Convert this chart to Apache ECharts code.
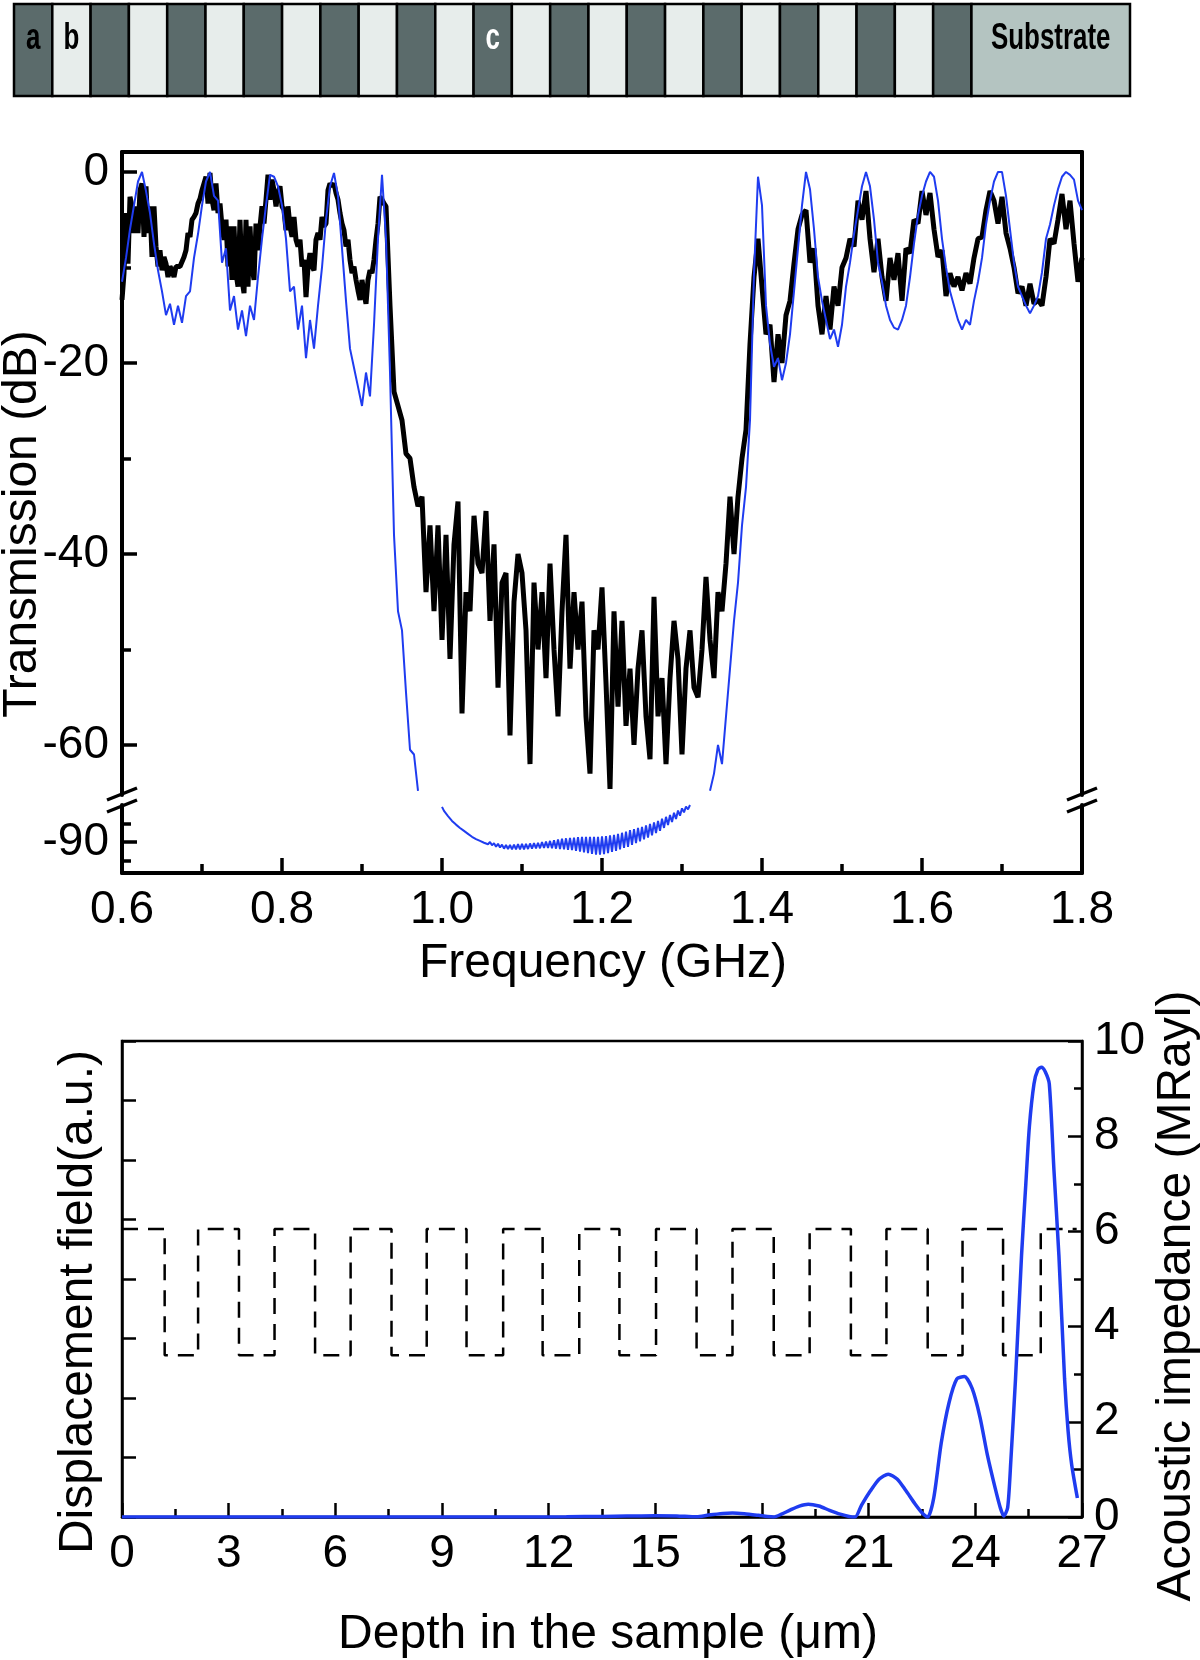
<!DOCTYPE html>
<html><head><meta charset="utf-8">
<script src="https://cdn.jsdelivr.net/npm/echarts@6/dist/echarts.min.js"></script>
<style>html,body{margin:0;padding:0;background:#fff}#c{width:1200px;height:1660px}</style>
</head><body><div id="c"></div>
<script>
const FONT = 'Liberation Sans, Arial, Helvetica, sans-serif';

// ---------- structure diagram ----------
const layerKinds = ['d','l','d','l','d','l','d','l','d','l','d','l','d','l','d','l','d','l','d','l','d','l','d','l','d','s'];
const layerLabels = ['a','b','','','','','','','','','','','c','','','','','','','','','','','','','Substrate'];
const layerWidths = [1,1,1,1,1,1,1,1,1,1,1,1,1,1,1,1,1,1,1,1,1,1,1,1,1,4.14];

// ---------- transmission (dB) ----------
const freqTicks = [0.6,0.8,1.0,1.2,1.4,1.6,1.8];
const freqMinorTicks = [0.7,0.9,1.1,1.3,1.5,1.7];
const dbTicksUpper = [0,-20,-40,-60];
const dbMinorUpper = [-10,-30,-50];
const dbTicksLower = [-90];
const dbMinorLower = [-85,-95];

// experiment (black): 0.600-0.930 step 0.0025 GHz
const blackStartA = 0.600;
const blackA = [-13.4,-10.6,-4.3,-9.6,-2.6,-3.6,-6.4,-3.6,-6.4,-1.9,-1.2,-6.8,-1.5,-6.4,-3.6,-8.9,-3.6,-7.8,-9.9,-8.2,
  -10.3,-8.9,-9.6,-11,-9.9,-10.3,-11,-9.9,-9.7,-9.9,-9.7,-8.9,-8.2,-6.4,-6.8,-5,-4.7,-4.3,-3.3,-2.8,
  -1.9,-1.2,-0.5,-3.3,-0.1,-2.9,-4,-1.2,-4.3,-3.3,-5.7,-7.1,-5,-9.9,-5.7,-11.3,-5.7,-10.6,-12,-5,
  -11.3,-12.7,-5,-12,-5.7,-9.9,-11.3,-5.4,-8.2,-5.7,-3.6,-5.4,-2.9,-0.3,-2.9,-0.8,-1.9,-3.6,-2.2,-1.5,
  -3.6,-4,-6.1,-3.6,-5.7,-6.8,-4.7,-7.1,-7.8,-7.1,-9.9,-9.2,-13.1,-9.9,-8.5,-9.9,-10.3,-7.1,-6.4,-7.1,
  -4.7,-5.7,-5.4,-1.9,-1.2,-1.5,-1.2,-2.2,-2.9,-4.3,-5.4,-6.1,-7.8,-7.1,-9.2,-10.6,-9.9,-11.3,-12.4,-13.4,
  -11.3,-12.7,-13.8,-11.3,-10.3,-10.6,-9.2,-7.1,-5.4,-2.6,-2.9,-3.3,-3.6];
// experiment (black): 0.935 onward, step 0.005 GHz
const blackStartA2 = 0.935;
const blackA2 = [-14,-23,-24.5,-26,-29.5,-30,-33,-35,-34];
const blackStartB = 0.980;
const blackB = [-44,-37,-46,-37,-49,-38,-51,-39,-34.5,-56.7,-44,-46,-36,-41,-42,-35.5,-47,-39,-54,-43,
  -42,-59,-45,-40,-42,-48,-62,-43,-50,-44,-53,-41,-50,-57,-46,-38,-52,-44,-50,-45,
  -57,-63,-48,-50,-43.5,-53.5,-64.6,-46,-56,-47,-58,-52,-60,-52,-48,-57,-61.5,-44.5,-57,-53,
  -62,-53,-47,-51,-61,-52,-48,-54,-55,-50,-42.4,-49,-53,-44,-46];
const blackStartC = 1.355;
const blackC = [-41,-34,-40,-34,-30,-27,-18,-11,-7,-12,-17,-16,-22,-17,-20,-15,-13.5,-9.6,-6,-4.5,
  -4,-9.5,-8,-14,-17,-13,-16.5,-12,-14,-10,-9,-7,-7.8,-3,-5,-2,-7,-10.5,-7,-11,
  -13.5,-9,-11.3,-8.5,-13.5,-8,-8.5,-5,-5.4,-2,-4.5,-2.2,-6,-8.9,-8.2,-13,-10.6,-12,-11,-12.4,
  -10.6,-11.7,-9,-7,-6.8,-4,-2,-3,-5.4,-2.6,-6.4,-8,-10,-12.7,-12,-14,-11.7,-13.8,-13.4,-14,
  -11,-7,-7.5,-5,-2.3,-6,-3,-7.5,-11.5,-9];

// simulation (blue), upper part, step 0.005 GHz
const blueStartA = 0.600;
const blueA = [-11.5,-9,-6,-3.5,-1,0,-2,-4.3,-7.5,-10.3,-12.5,-15,-13.8,-16,-14,-15.8,-13,-12.5,-9,-6.5,
  -3.5,-1,0,-2.5,-3,-9.5,-8,-14.5,-13,-16.5,-14.5,-17.2,-14,-15.5,-11,-7,-3.5,-0.3,-0.5,-1.5,
  -3.5,-7,-12.5,-12,-16.5,-14,-19.5,-15.5,-18.5,-14,-10,-5,-1.5,-0.1,-2.5,-8,-13.5,-18.5,-20.5,-22.5,
  -24.5,-21,-23.5,-16,-7,-0.3,-7,-21,-38,-46,-48,-54.5,-60.5,-61,-64.8];
const blueStartB = 1.335;
const blueB = [-64.8,-63,-60,-62,-57,-52,-47,-43,-37,-33,-26,-10.6,-0.5,-3.5,-14,-18,-20.4,-19.5,-21.8,-20,
  -17,-12.5,-8,-3.5,0,-1.8,-6,-11,-13.5,-15.5,-17.5,-16.5,-18.3,-16,-12,-9.5,-6.5,-4,-1.5,0,
  -1.5,-5,-9.5,-11.5,-14,-15.5,-16.3,-16.5,-15.5,-14,-11,-7.5,-4.5,-2.5,-1,0,-0.5,-3,-7,-10,
  -12.5,-14,-15.5,-16.5,-15.5,-16,-13.5,-11.5,-9,-5.5,-3,-1,0,0,-2.5,-6,-9.5,-12,-13,-14,
  -14.8,-14,-13,-10.5,-7,-5.5,-3.5,-1.8,-0.5,0,-0.3,-0.8,-3,-4];
// simulation (blue), below the axis break, step 0.0025 GHz
const blueStartLow = 1.000;
const blueLow = [-80.5,-81.6,-81.4,-83.0,-82.8,-84.3,-84.0,-85.3,-85.0,-86.2,-85.9,-87.0,-86.7,-87.8,-87.6,-88.6,-88.2,-89.2,-88.8,-89.7,
  -89.3,-90.2,-89.7,-90.6,-90.0,-90.9,-90.3,-91.3,-90.5,-91.5,-90.7,-91.8,-90.8,-91.9,-90.8,-92.0,-90.7,-92.0,-90.6,-92.0,
  -90.5,-92.0,-90.5,-91.9,-90.4,-91.8,-90.3,-91.7,-90.2,-91.7,-90.0,-91.6,-89.9,-91.6,-89.7,-91.7,-89.5,-91.8,-89.3,-91.9,
  -89.1,-92.0,-89.0,-92.1,-88.9,-92.2,-88.8,-92.4,-88.7,-92.6,-88.6,-92.8,-88.6,-93.0,-88.6,-93.2,-88.6,-93.4,-88.6,-93.4,
  -88.5,-93.3,-88.4,-93.0,-88.2,-92.7,-88.1,-92.4,-87.8,-92.0,-87.5,-91.6,-87.2,-91.3,-86.8,-90.8,-86.5,-90.3,-86.2,-89.8,
  -85.9,-89.3,-85.5,-88.8,-85.1,-88.2,-84.7,-87.6,-84.3,-87.0,-83.7,-86.2,-83.2,-85.4,-82.7,-84.6,-82.1,-83.8,-81.5,-82.9,
  -80.9,-82.0,-80.4,-81.2,-80.0];

// ---------- depth profile ----------
const depthTicks = [0,3,6,9,12,15,18,21,24,27];
const depthDisp = [0,4,8,11,12.5,13.5,14.2,15,15.6,16.16,16.5,16.9,17.17,17.5,17.9,18.15,18.33,18.55,18.8,19.05,
  19.3,19.6,19.9,20.2,20.45,20.62,20.8,21.05,21.3,21.55,21.8,22.05,22.3,22.5,22.66,22.83,23.04,23.26,23.48,23.69,
  23.91,24.13,24.34,24.56,24.7,24.8,24.91,25.0,25.13,25.3,25.42,25.52,25.65,25.76,25.86,25.97,26.08,26.21,26.35,26.51,
  26.61,26.71,26.87];
const displacement = [0,0,0,0,0.005,0.012,0.02,0.028,0.022,0.003,0.04,0.075,0.085,0.07,0.035,0.01,0,0.06,0.15,0.23,
  0.27,0.23,0.14,0.06,0.012,0,0.25,0.55,0.8,0.9,0.8,0.55,0.28,0.09,0,0.4,1.55,2.4,2.9,2.95,
  2.7,2.1,1.3,0.6,0.2,0.02,0.2,1.2,2.9,5.5,7.0,8.2,9.1,9.4,9.45,9.35,9.1,7.3,5.5,2.9,
  1.8,1.1,0.4];
const layerBounds = [0,1.20,2.14,3.29,4.29,5.43,6.43,7.58,8.57,9.69,10.72,11.83,12.86,13.99,15.02,16.16,17.17,18.33,19.34,20.5,21.5,22.66,23.64,24.78,25.84,26.85];
const layerImpedance = [6.05,3.4,6.05,3.4,6.05,3.4,6.05,3.4,6.05,3.4,6.05,3.4,6.05,3.4,6.05,3.4,6.05,3.4,6.05,3.4,6.05,3.4,6.05,3.4,6.05];

// ---------- build ----------
function seq(start, step, vals) { return vals.map((v, i) => [+(start + i * step).toFixed(4), v]); }
const blackData = seq(blackStartA, 0.0025, blackA).concat(seq(blackStartA2, 0.005, blackA2), seq(blackStartB, 0.005, blackB), seq(blackStartC, 0.005, blackC));
const blueDataA = seq(blueStartA, 0.005, blueA);
const blueDataB = seq(blueStartB, 0.005, blueB);
const blueDataLow = seq(blueStartLow, 0.0025, blueLow);
const dispData = depthDisp.map((d, i) => [d, displacement[i]]);
const impData = [];
layerImpedance.forEach((z, i) => { impData.push([layerBounds[i], z]); impData.push([layerBounds[i + 1], z]); });
const diagData = []; let acc = 0;
layerWidths.forEach(w => { diagData.push([acc, acc + w]); acc += w; });
const diagColors = { d: '#5b6b6b', l: '#e7edeb', s: '#b4c4c1' };

const BLUE = '#1f3cf0';
const axisTxt = { color: '#000', fontFamily: FONT, fontSize: 46 };
function lineOnly(w) { return { show: true, onZero: false, lineStyle: { color: '#000', width: w } }; }
const noTick = { show: false }, noLbl = { show: false }, noSplit = { show: false };

const chart = echarts.init(document.getElementById('c'), null, { renderer: 'canvas', width: 1200, height: 1660 });
chart.setOption({
  animation: false,
  backgroundColor: '#fff',
  grid: [
    { left: 14, top: 4, width: 1116, height: 92, outerBoundsMode: 'none' },
    { left: 122, top: 152, width: 960, height: 643, outerBoundsMode: 'none' },
    { left: 122, top: 805, width: 960, height: 68, outerBoundsMode: 'none' },
    { left: 122, top: 1041, width: 960, height: 476, show: true, borderColor: '#000', borderWidth: 2.5, outerBoundsMode: 'none' }
  ],
  xAxis: [
    { gridIndex: 0, type: 'value', min: 0, max: acc, show: false },
    { gridIndex: 1, type: 'value', min: 0.6, max: 1.8, position: 'top', axisLine: lineOnly(4), axisTick: noTick, axisLabel: noLbl, splitLine: noSplit },
    { gridIndex: 2, type: 'value', min: 0.6, max: 1.8, position: 'bottom', axisLine: lineOnly(4),
      axisTick: { show: true, inside: true, length: 15, customValues: freqTicks, lineStyle: { color: '#000', width: 3.5 } },
      axisLabel: Object.assign({ show: true, margin: 14, customValues: freqTicks, formatter: v => (+v).toFixed(1) }, axisTxt), splitLine: noSplit },
    { gridIndex: 2, type: 'value', min: 0.6, max: 1.8, position: 'bottom', axisLine: { show: false, onZero: false },
      axisTick: { show: true, inside: true, length: 9, customValues: freqMinorTicks, lineStyle: { color: '#000', width: 3.5 } },
      axisLabel: noLbl, splitLine: noSplit },
    { gridIndex: 3, type: 'value', min: 0, max: 27, interval: 3, position: 'bottom', axisLine: lineOnly(2.5),
      axisTick: { show: true, inside: true, length: 14, lineStyle: { color: '#000', width: 2.5 } },
      minorTick: { show: true, splitNumber: 2, length: 8, lineStyle: { color: '#000', width: 2.5 } },
      axisLabel: Object.assign({ show: true, margin: 14 }, axisTxt), splitLine: noSplit, minorSplitLine: noSplit }
  ],
  yAxis: [
    { gridIndex: 0, type: 'value', min: 0, max: 1, show: false },
    { gridIndex: 1, type: 'value', min: -65.24, max: 2.09, position: 'left', axisLine: lineOnly(4),
      axisTick: { show: true, inside: true, length: 15, customValues: dbTicksUpper, lineStyle: { color: '#000', width: 3.5 } },
      axisLabel: Object.assign({ show: true, margin: 13, customValues: dbTicksUpper }, axisTxt), splitLine: noSplit },
    { gridIndex: 1, type: 'value', min: -65.24, max: 2.09, position: 'left', axisLine: { show: false, onZero: false },
      axisTick: { show: true, inside: true, length: 9, customValues: dbMinorUpper, lineStyle: { color: '#000', width: 3.5 } },
      axisLabel: noLbl, splitLine: noSplit },
    { gridIndex: 1, type: 'value', min: -65.24, max: 2.09, position: 'right', axisLine: lineOnly(4), axisTick: noTick, axisLabel: noLbl, splitLine: noSplit },
    { gridIndex: 2, type: 'value', min: -98.38, max: -80.0, position: 'left', axisLine: lineOnly(4),
      axisTick: { show: true, inside: true, length: 15, customValues: dbTicksLower, lineStyle: { color: '#000', width: 3.5 } },
      axisLabel: Object.assign({ show: true, margin: 13, customValues: dbTicksLower }, axisTxt), splitLine: noSplit },
    { gridIndex: 2, type: 'value', min: -98.38, max: -80.0, position: 'left', axisLine: { show: false, onZero: false },
      axisTick: { show: true, inside: true, length: 9, customValues: dbMinorLower, lineStyle: { color: '#000', width: 3.5 } },
      axisLabel: noLbl, splitLine: noSplit },
    { gridIndex: 2, type: 'value', min: -98.38, max: -80.0, position: 'right', axisLine: lineOnly(4), axisTick: noTick, axisLabel: noLbl, splitLine: noSplit },
    { gridIndex: 3, type: 'value', min: 0, max: 8, interval: 1, position: 'left', axisLine: lineOnly(2.5),
      axisTick: { show: true, inside: true, length: 14, lineStyle: { color: '#000', width: 2.5 } }, axisLabel: noLbl, splitLine: noSplit },
    { gridIndex: 3, type: 'value', min: 0, max: 10, interval: 2, position: 'right', axisLine: lineOnly(2.5),
      axisTick: { show: true, inside: true, length: 14, lineStyle: { color: '#000', width: 2.5 } },
      minorTick: { show: true, splitNumber: 2, length: 8, lineStyle: { color: '#000', width: 2.5 } },
      axisLabel: Object.assign({ show: true, margin: 12 }, axisTxt), splitLine: noSplit, minorSplitLine: noSplit }
  ],
  series: [
    { type: 'custom', xAxisIndex: 0, yAxisIndex: 0, data: diagData, silent: true,
      renderItem: function (params, api) {
        const i = params.dataIndex;
        const p0 = api.coord([api.value(0), 1]);
        const p1 = api.coord([api.value(1), 0]);
        const kind = layerKinds[i];
        const ch = [{ type: 'rect', shape: { x: p0[0], y: p0[1], width: p1[0] - p0[0], height: p1[1] - p0[1] },
          style: { fill: diagColors[kind], stroke: '#000', lineWidth: 2.5 } }];
        if (layerLabels[i]) {
          ch.push({ type: 'text', x: (p0[0] + p1[0]) / 2, y: p0[1] + (p1[1] - p0[1]) * 0.38, scaleX: 0.72,
            style: { text: layerLabels[i], fill: layerLabels[i] === 'c' ? '#fff' : '#000', font: 'bold 36px ' + FONT, align: 'center', verticalAlign: 'middle' } });
        }
        return { type: 'group', children: ch };
      } },
    { type: 'line', name: 'exp', xAxisIndex: 1, yAxisIndex: 1, data: blackData, showSymbol: false, z: 2,
      lineStyle: { color: '#000', width: 5, join: 'bevel' } },
    { type: 'line', name: 'simA', xAxisIndex: 1, yAxisIndex: 1, data: blueDataA, showSymbol: false, z: 3,
      lineStyle: { color: BLUE, width: 2 } },
    { type: 'line', name: 'simB', xAxisIndex: 1, yAxisIndex: 1, data: blueDataB, showSymbol: false, z: 3,
      lineStyle: { color: BLUE, width: 2 } },
    { type: 'line', name: 'simLow', xAxisIndex: 2, yAxisIndex: 4, data: blueDataLow, showSymbol: false, z: 3,
      lineStyle: { color: BLUE, width: 2 } },
    { type: 'line', name: 'imp', xAxisIndex: 4, yAxisIndex: 8, data: impData, showSymbol: false, z: 2,
      lineStyle: { color: '#000', width: 2.5, type: [16, 10] } },
    { type: 'line', name: 'disp', xAxisIndex: 4, yAxisIndex: 8, data: dispData, showSymbol: false, z: 3, smooth: 0.25,
      lineStyle: { color: BLUE, width: 3.5 } }
  ],
  graphic: [
    { type: 'text', x: 603, y: 964, style: { text: 'Frequency (GHz)', font: '48px ' + FONT, fill: '#000', align: 'center', verticalAlign: 'middle' } },
    { type: 'text', x: 23, y: 524, rotation: Math.PI / 2, style: { text: 'Transmission (dB)', font: '48px ' + FONT, fill: '#000', align: 'center', verticalAlign: 'middle' } },
    { type: 'text', x: 608, y: 1635, style: { text: 'Depth in the sample (\u03bcm)', font: '48px ' + FONT, fill: '#000', align: 'center', verticalAlign: 'middle' } },
    { type: 'text', x: 79, y: 1302, rotation: Math.PI / 2, style: { text: 'Displacement field(a.u.)', font: '48px ' + FONT, fill: '#000', align: 'center', verticalAlign: 'middle' } },
    { type: 'text', x: 1177, y: 1296, rotation: Math.PI / 2, style: { text: 'Acoustic impedance (MRayl)', font: '48px ' + FONT, fill: '#000', align: 'center', verticalAlign: 'middle' } },
    { type: 'line', shape: { x1: 107, y1: 800, x2: 137, y2: 788 }, style: { stroke: '#000', lineWidth: 3.5 } },
    { type: 'line', shape: { x1: 107, y1: 812, x2: 137, y2: 800 }, style: { stroke: '#000', lineWidth: 3.5 } },
    { type: 'line', shape: { x1: 1067, y1: 800, x2: 1097, y2: 788 }, style: { stroke: '#000', lineWidth: 3.5 } },
    { type: 'line', shape: { x1: 1067, y1: 812, x2: 1097, y2: 800 }, style: { stroke: '#000', lineWidth: 3.5 } }
  ]
});
</script>
</body></html>
